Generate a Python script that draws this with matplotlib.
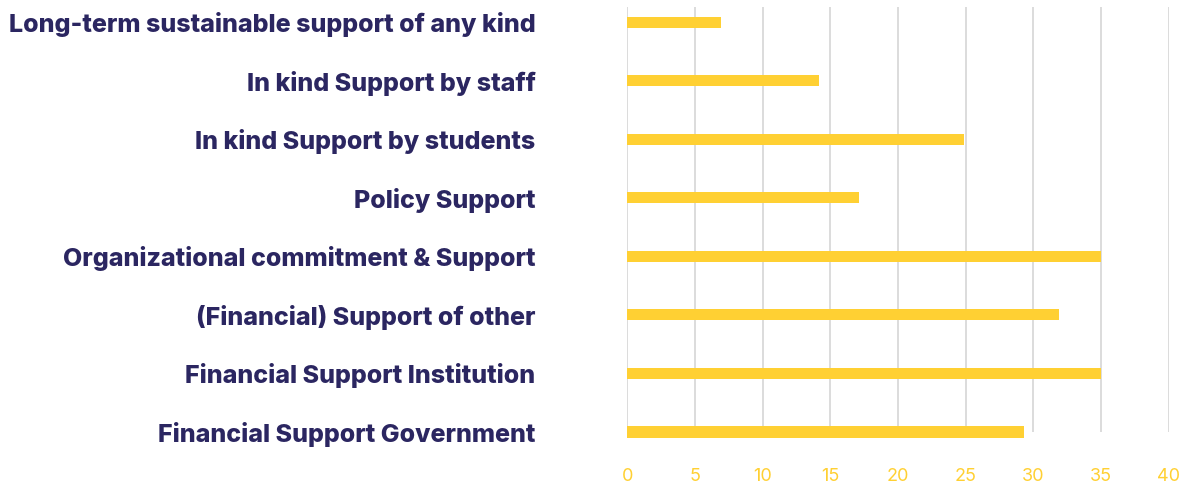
import matplotlib
matplotlib.use("Agg")
import matplotlib.pyplot as plt
import numpy as np

categories = [
    "Financial Support Government",
    "Financial Support Institution",
    "(Financial) Support of other",
    "Organizational commitment & Support",
    "Policy Support",
    "In kind Support by students",
    "In kind Support by staff",
    "Long-term sustainable support of any kind",
]
values = [29.3, 35.0, 31.9, 35.0, 17.1, 24.9, 14.2, 6.9]
xticks = [0, 5, 10, 15, 20, 25, 30, 35, 40]

yellow = "#FFD033"
navy = "#2B2661"

fig = plt.figure(figsize=(11.88, 4.83), dpi=100)
ax = fig.add_axes([0.528, 0.1056, 0.4556, 0.88])

y = np.arange(len(categories))
ax.barh(y, values, height=0.19, color=yellow, zorder=3, clip_on=False)

ax.set_xlim(0, 40)
ax.set_ylim(0, len(categories) - 1 + 0.26)
ax.set_xticks(xticks)
ax.grid(axis="x", color="#d6d6d6", linewidth=1.2, zorder=0)
for s in ax.spines.values():
    s.set_visible(False)

ax.set_yticks(y)
ax.set_yticklabels(categories, fontfamily="Inter", fontweight="heavy",
                   fontsize=18.0, color=navy)
ax.tick_params(axis="y", length=0, pad=66)
ax.tick_params(axis="x", length=0, pad=26, labelsize=13, labelcolor=yellow)
for lbl in ax.get_xticklabels():
    lbl.set_fontfamily("Inter")

fig.savefig("out.png", dpi=100)
